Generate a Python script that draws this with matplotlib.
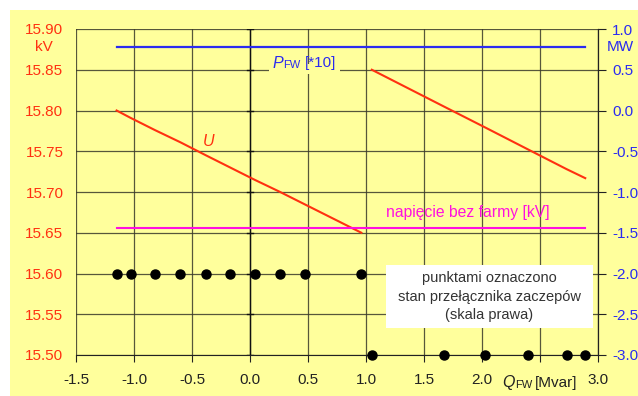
import matplotlib.pyplot as plt
from matplotlib.patches import Rectangle

plt.rcParams['font.family'] = ['Liberation Sans', 'DejaVu Sans']

# tap changer state points (right scale)
q_tap1 = [-1.15, -1.03, -0.82, -0.60, -0.38, -0.17, 0.04, 0.26, 0.47, 0.96]
tap1 = [-2.0] * 10
q_tap2 = [1.05, 1.67, 2.03, 2.40, 2.73, 2.89]
tap2 = [-3.0] * 6

# voltage U [kV] (left scale), two segments
u1 = [15.800, 15.791, 15.776, 15.761, 15.745, 15.730, 15.715, 15.700, 15.685, 15.650]
u2 = [15.850, 15.805, 15.779, 15.752, 15.728, 15.717]

# P_FW*10 [MW] and voltage without the farm [kV]
q_range = [-1.15, 2.89]
p_fw = [0.78, 0.78]
u_nofarm = [15.656, 15.656]

x_ticks = [-1.5, -1.0, -0.5, 0.0, 0.5, 1.0, 1.5, 2.0, 2.5, 3.0]
x_labels = ['-1.5', '-1.0', '-0.5', '0.0', '0.5', '1.0', '1.5', '2.0', '', '3.0']
y_left = [15.50, 15.55, 15.60, 15.65, 15.70, 15.75, 15.80, 15.85, 15.90]
y_right = [-3.0, -2.5, -2.0, -1.5, -1.0, -0.5, 0.0, 0.5, 1.0]

red = '#ff3010'
blue = '#2b2bf0'
magenta = '#ff10e0'
yellow = '#ffff9c'

fig = plt.figure(figsize=(6.38, 3.96), dpi=100, facecolor='white')
fig.patches.append(Rectangle((10 / 638, 0), 1, 1 - 10 / 396, transform=fig.transFigure,
                             facecolor=yellow, edgecolor='none', zorder=-5))

ax = fig.add_axes([76 / 638, 1 - 355 / 396, (598 - 76) / 638, (355 - 29) / 396])
ax.set_facecolor(yellow)
ax2 = ax.twinx()

ax.set_xlim(-1.5, 3.0)
ax.set_ylim(15.50, 15.90)
ax2.set_ylim(-3.0, 1.0)

ax.set_xticks(x_ticks)
ax.set_xticklabels(x_labels, fontsize=11, color='#222222')
ax.set_yticks(y_left)
ax.set_yticklabels(['%.2f' % v for v in y_left], fontsize=11, color=red)
ax2.set_yticks(y_right)
ax2.set_yticklabels(['%.1f' % v for v in y_right], fontsize=11, color=blue)

ax.grid(True, color='#3a3a2a', lw=0.9, alpha=0.85)
ax.set_axisbelow(True)
ax.axvline(0, color='#111111', lw=1.0, zorder=1)
for y in y_left:
    ax.plot([-0.025, 0.025], [y, y], color='#111111', lw=1, zorder=1)

for s in ['top', 'left']:
    ax.spines[s].set_visible(False)
    ax2.spines[s].set_visible(False)
ax.spines['bottom'].set_color('#222222')
ax2.spines['bottom'].set_visible(False)
ax2.spines['right'].set_color('#222222')
ax.tick_params(axis='x', length=5, color='#222222', pad=8)
ax.tick_params(axis='y', length=0, pad=9)
ax2.tick_params(axis='y', length=6, color='#222222', pad=4)

ax.plot(q_tap1, u1, color=red, lw=1.5, zorder=3)
ax.plot(q_tap2, u2, color=red, lw=1.5, zorder=3)
ax.plot(q_range, u_nofarm, color=magenta, lw=1.5, zorder=3)
ax2.plot(q_range, p_fw, color=blue, lw=1.6, zorder=3)
ax2.plot(q_tap1, tap1, 'o', color='black', ms=6.5, zorder=4, clip_on=False)
ax2.plot(q_tap2, tap2, 'o', color='black', ms=6.5, zorder=4, clip_on=False)

# texts
fig.text(44 / 638, 1 - 47 / 396, 'kV', color=red, fontsize=11, ha='center', va='center')
fig.text(620 / 638, 1 - 47 / 396, 'MW', color=blue, fontsize=11, ha='center', va='center')
ax.text(-0.36, 15.762, 'U', color=red, fontsize=11.5, style='italic', ha='center', va='center')

# P_FW label, hiding the grid line behind it
ax.add_patch(Rectangle((0.16, 15.845), 0.62, 0.012, facecolor=yellow, edgecolor='none',
                       zorder=2))
ax.text(0.19, 15.858, 'P', color=blue, fontsize=11.5, style='italic',
        ha='left', va='center', zorder=5)
ax.text(0.285, 15.856, 'FW', color=blue, fontsize=8, ha='left', va='center', zorder=5)
ax.text(0.472, 15.858, '[*10]', color=blue, fontsize=11, ha='left', va='center', zorder=5)

ax.text(1.17, 15.666, 'napięcie bez farmy [kV]', color=magenta, fontsize=11.3,
        ha='left', va='bottom')

ax.add_patch(Rectangle((1.172, 15.533), 1.785, 0.077, facecolor='white', edgecolor='none',
                       zorder=5))
ax.text(2.065, 15.5715, 'punktami oznaczono\nstan przełącznika zaczepów\n(skala prawa)',
        color='#333333', fontsize=10.5, ha='center', va='center', linespacing=1.42,
        zorder=6)

fig.text(502 / 638, 1 - 383 / 396, 'Q', color='#222222', fontsize=11.5, style='italic',
         ha='left', va='center')
fig.text(515 / 638, 1 - 385 / 396, 'FW', color='#222222', fontsize=8, ha='left', va='center')
fig.text(535 / 638, 1 - 383 / 396, '[Mvar]', color='#222222', fontsize=11, ha='left',
         va='center')

plt.savefig('out.png', dpi=100, facecolor='white')
